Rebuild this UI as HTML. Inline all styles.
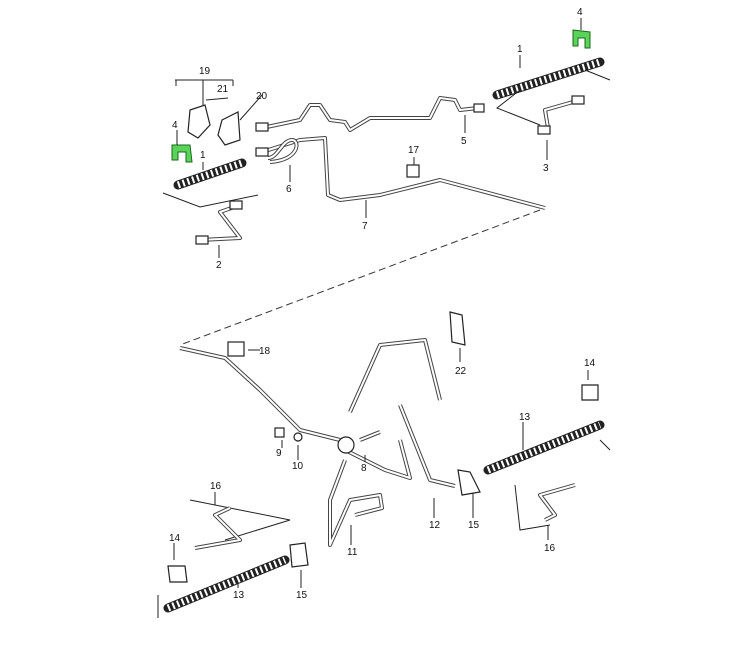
<!DOCTYPE html>
<html><head><meta charset="utf-8"><style>
html,body{margin:0;padding:0;background:#fff;}
svg{display:block}
text{font-family:"Liberation Sans",sans-serif;font-size:10px;fill:#111}
.p{fill:none;stroke:#444;stroke-width:4;stroke-linejoin:round}
.pi{fill:none;stroke:#fff;stroke-width:2;stroke-linejoin:round}
.l{fill:none;stroke:#222;stroke-width:1}
.d{fill:none;stroke:#333;stroke-width:1;stroke-dasharray:7,4}
.h{fill:none;stroke:#222;stroke-width:9;stroke-linecap:round}
.hr{fill:none;stroke:#fff;stroke-width:7;stroke-dasharray:2,3}
.g{fill:#5ad35a;stroke:#1a6a1a;stroke-width:1}
.c{fill:#fff;stroke:#222;stroke-width:1.2}
</style></head><body>
<svg width="742" height="649" viewBox="0 0 742 649">
<!-- top dashed -->
<path class="d" d="M540 210 L180 345"/>
<!-- top pipes -->
<g>
<path class="p" d="M262 128 L300 120 L310 105 L320 105 L330 120 L345 122 L350 130 L370 118 L430 118 L440 98 L455 100 L460 110 L478 108"/>
<path class="pi" d="M262 128 L300 120 L310 105 L320 105 L330 120 L345 122 L350 130 L370 118 L430 118 L440 98 L455 100 L460 110 L478 108"/>
<path class="p" d="M262 152 L300 140 L325 138 L328 195 L340 200 L380 195 L440 180 L545 208"/>
<path class="pi" d="M262 152 L300 140 L325 138 L328 195 L340 200 L380 195 L440 180 L545 208"/>
<path class="p" d="M270 162 C300 160 300 140 292 140 C282 140 278 158 268 158"/>
<path class="pi" d="M270 162 C300 160 300 140 292 140 C282 140 278 158 268 158"/>
</g>
<!-- top-right hose -->
<path class="h" d="M497 95 L600 62"/><path class="hr" d="M497 95 L600 62"/>
<path class="l" d="M520 55 L520 68"/>
<path class="l" d="M520 90 L497 108 L540 125 M585 70 L610 80"/>
<path class="p" d="M540 130 L548 128 L545 110 L580 100"/><path class="pi" d="M540 130 L548 128 L545 110 L580 100"/>
<rect class="c" x="538" y="126" width="12" height="8"/><rect class="c" x="572" y="96" width="12" height="8"/>
<path class="l" d="M547 140 L547 160"/>
<!-- clip 4 top -->
<path class="g" d="M573 30 L590 32 L590 48 L585 48 L585 38 L578 38 L578 46 L573 46 Z"/>
<path class="l" d="M581 18 L581 30"/>
<!-- left group -->
<path class="l" d="M175 80 L233 80 M176 80 L176 86 M233 80 L233 86 M203 80 L203 110"/>
<path class="c" d="M190 110 L205 105 L210 125 L198 138 L188 132 Z"/>
<path class="c" d="M222 120 L238 112 L240 140 L225 145 L218 135 Z"/>
<path class="l" d="M206 100 L228 98"/>
<path class="l" d="M240 120 L262 95"/>
<path class="g" d="M172 145 L190 145 L192 162 L186 162 L186 152 L178 152 L178 160 L172 160 Z"/>
<path class="l" d="M177 130 L177 145 M203 162 L203 170"/>
<path class="h" d="M178 185 L242 163"/><path class="hr" d="M178 185 L242 163"/>
<path class="l" d="M163 193 L200 207 L258 195"/>
<path class="p" d="M200 240 L240 238 L220 212 L240 205"/><path class="pi" d="M200 240 L240 238 L220 212 L240 205"/>
<rect class="c" x="196" y="236" width="12" height="8"/><rect class="c" x="230" y="201" width="12" height="8"/>
<path class="l" d="M219 245 L219 258 M290 165 L290 182 M366 200 L366 218"/>
<rect class="c" x="407" y="165" width="12" height="12"/>
<path class="l" d="M414 157 L414 165 M465 115 L465 133 M260 125 L268 130"/>
<!-- fittings top -->
<rect class="c" x="256" y="123" width="12" height="8"/><rect class="c" x="256" y="148" width="12" height="8"/>
<rect class="c" x="474" y="104" width="10" height="8"/>
<!-- labels top -->
<text x="577" y="15">4</text><text x="517" y="52">1</text><text x="461" y="144">5</text>
<text x="543" y="171">3</text><text x="408" y="153">17</text><text x="362" y="229">7</text>
<text x="286" y="192">6</text><text x="256" y="99">20</text><text x="199" y="74">19</text>
<text x="217" y="92">21</text><text x="172" y="128">4</text><text x="200" y="158">1</text>
<text x="216" y="268">2</text>
<!-- bottom pipes -->
<path class="p" d="M180 348 L225 358 L260 390 L300 430 L340 440 M350 412 L380 345 L425 340 L440 400 M400 405 L430 480 L455 486"/>
<path class="pi" d="M180 348 L225 358 L260 390 L300 430 L340 440 M350 412 L380 345 L425 340 L440 400 M400 405 L430 480 L455 486"/>
<path class="p" d="M360 440 L380 432 M345 450 L385 470 L410 478 L400 440 M345 460 L330 500 L330 545 L350 500 L380 495 L382 508 L355 515"/>
<path class="pi" d="M360 440 L380 432 M345 450 L385 470 L410 478 L400 440 M345 460 L330 500 L330 545 L350 500 L380 495 L382 508 L355 515"/>
<circle class="c" cx="346" cy="445" r="8"/>
<rect class="c" x="228" y="342" width="16" height="14"/>
<path class="l" d="M248 350 L260 350"/>
<path class="c" d="M450 312 L462 315 L465 345 L452 342 Z"/>
<path class="l" d="M460 348 L460 362 M588 370 L588 380 M523 422 L523 450 M365 455 L365 462 M282 440 L282 448 M298 445 L298 460 M434 498 L434 518 M473 490 L473 518 M351 525 L351 545 M548 525 L548 540 M215 492 L215 505 M174 543 L174 560 M301 570 L301 588 M238 580 L238 588"/>
<rect class="c" x="275" y="428" width="9" height="9"/><circle class="c" cx="298" cy="437" r="4"/>
<!-- right hose -->
<path class="h" d="M488 470 L600 425"/><path class="hr" d="M488 470 L600 425"/>
<path class="c" d="M582 385 L598 385 L598 400 L582 400 Z"/>
<path class="l" d="M515 485 L520 530 L550 525 M600 440 L610 450"/>
<path class="p" d="M545 520 L555 515 L540 495 L575 485"/><path class="pi" d="M545 520 L555 515 L540 495 L575 485"/>
<path class="c" d="M458 470 L470 472 L480 492 L462 495 Z"/>
<!-- left hose -->
<path class="h" d="M168 608 L285 560"/><path class="hr" d="M168 608 L285 560"/>
<path class="c" d="M168 566 L185 566 L187 582 L170 582 Z"/>
<path class="l" d="M158 595 L158 618 M190 500 L290 520 L225 540"/>
<path class="p" d="M195 548 L240 540 L215 515 L230 508"/><path class="pi" d="M195 548 L240 540 L215 515 L230 508"/>
<path class="c" d="M290 545 L305 543 L308 565 L292 567 Z"/>
<!-- labels bottom -->
<text x="259" y="354">18</text><text x="455" y="374">22</text><text x="584" y="366">14</text>
<text x="519" y="420">13</text><text x="276" y="456">9</text><text x="292" y="469">10</text>
<text x="361" y="471">8</text><text x="429" y="528">12</text><text x="468" y="528">15</text>
<text x="347" y="555">11</text><text x="544" y="551">16</text><text x="210" y="489">16</text>
<text x="169" y="541">14</text><text x="296" y="598">15</text><text x="233" y="598">13</text>
</svg>
</body></html>
